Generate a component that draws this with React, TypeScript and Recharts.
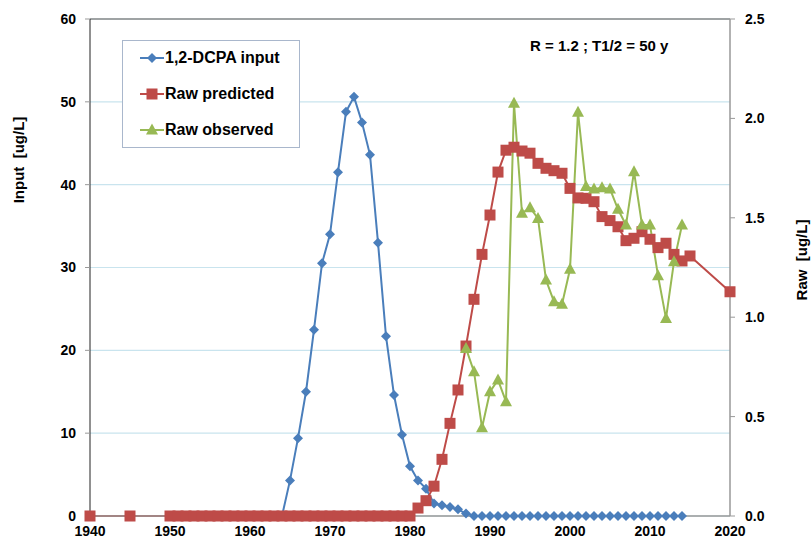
import { ComposedChart, Line, XAxis, YAxis, CartesianGrid, ReferenceLine } from 'recharts';

const xTicks = [1940, 1950, 1960, 1970, 1980, 1990, 2000, 2010, 2020];
const inputTicks = [0, 10, 20, 30, 40, 50, 60];
const rawTicks = [0, 0.5, 1, 1.5, 2, 2.5];

const inputYears = [
  1964, 1965, 1966, 1967, 1968, 1969, 1970, 1971, 1972, 1973, 1974, 1975, 1976, 1977, 1978, 1979,
  1980, 1981, 1982, 1983, 1984, 1985, 1986, 1987, 1988, 1989, 1990, 1991, 1992, 1993, 1994, 1995,
  1996, 1997, 1998, 1999, 2000, 2001, 2002, 2003, 2004, 2005, 2006, 2007, 2008, 2009, 2010, 2011,
  2012, 2013, 2014,
];
const inputValues = [
  0, 4.3, 9.4, 15, 22.5, 30.5, 34, 41.5, 48.8, 50.6, 47.5, 43.6, 33, 21.7, 14.6, 9.8,
  6, 4.3, 3.3, 1.5, 1.3, 1.1, 0.8, 0.3, 0, 0, 0, 0, 0, 0, 0, 0,
  0, 0, 0, 0, 0, 0, 0, 0, 0, 0, 0, 0, 0, 0, 0, 0,
  0, 0, 0,
];

const predictedYears = [
  1940, 1945, 1950, 1951, 1952, 1953, 1954, 1955, 1956, 1957, 1958, 1959, 1960, 1961, 1962, 1963,
  1964, 1965, 1966, 1967, 1968, 1969, 1970, 1971, 1972, 1973, 1974, 1975, 1976, 1977, 1978, 1979,
  1980, 1981, 1982, 1983, 1984, 1985, 1986, 1987, 1988, 1989, 1990, 1991, 1992, 1993, 1994, 1995,
  1996, 1997, 1998, 1999, 2000, 2001, 2002, 2003, 2004, 2005, 2006, 2007, 2008, 2009, 2010, 2011,
  2012, 2013, 2014, 2015, 2020,
];
const predictedValues = [
  0, 0, 0, 0, 0, 0, 0, 0, 0, 0, 0, 0, 0, 0, 0, 0,
  0, 0, 0, 0, 0, 0, 0, 0, 0, 0, 0, 0, 0, 0, 0, 0,
  0, 0.04, 0.077, 0.15, 0.285, 0.466, 0.634, 0.855, 1.09, 1.316, 1.514, 1.73, 1.84, 1.855, 1.836, 1.825,
  1.774, 1.749, 1.737, 1.724, 1.648, 1.6, 1.598, 1.581, 1.506, 1.486, 1.455, 1.385, 1.397, 1.43, 1.392, 1.35,
  1.372, 1.316, 1.283, 1.308, 1.128,
];

const observedYears = [
  1987, 1988, 1989, 1990, 1991, 1992, 1993, 1994, 1995, 1996, 1997, 1998, 1999, 2000,
  2001, 2002, 2003, 2004, 2005, 2006, 2007, 2008, 2009, 2010, 2011, 2012, 2013, 2014,
];
const observedValues = [
  0.843, 0.726, 0.444, 0.625, 0.684, 0.575, 2.076, 1.523, 1.551, 1.497, 1.187, 1.078, 1.065, 1.241,
  2.031, 1.657, 1.645, 1.651, 1.645, 1.543, 1.464, 1.732, 1.464, 1.464, 1.209, 0.994, 1.279, 1.464,
];

const BLUE = '#4a7ebb';
const RED = '#be4b48';
const GREEN = '#98b954';
const FONT = '"Liberation Sans", Arial, sans-serif';

const inputData = inputYears.map((year, i) => ({ year, v: inputValues[i] }));
const predictedData = predictedYears.map((year, i) => ({ year, v: predictedValues[i] }));
const observedData = observedYears.map((year, i) => ({ year, v: observedValues[i] }));

const Diamond = ({ cx, cy, key }: any) => (
  <path key={key} d={`M${cx},${cy - 5}L${cx + 5},${cy}L${cx},${cy + 5}L${cx - 5},${cy}Z`} fill={BLUE} />
);
const Square = ({ cx, cy, key }: any) => (
  <rect key={key} x={cx - 5.5} y={cy - 5.5} width={11} height={11} fill={RED} />
);
const Triangle = ({ cx, cy, key }: any) => (
  <path key={key} d={`M${cx},${cy - 6.5}L${cx + 6},${cy + 4.5}L${cx - 6},${cy + 4.5}Z`} fill={GREEN} />
);

const legendItems = [
  { name: '1,2-DCPA input', color: BLUE, Marker: Diamond },
  { name: 'Raw predicted', color: RED, Marker: Square },
  { name: 'Raw observed', color: GREEN, Marker: Triangle },
];

// legend drawn as an overlay box, like the spreadsheet one
const LegendBox = () => (
  <div
    style={{
      position: 'absolute',
      left: 122,
      top: 40,
      width: 178,
      height: 108,
      border: '1px solid #a9b7cc',
      background: '#fff',
      fontFamily: FONT,
      fontWeight: 'bold',
      fontSize: 16,
      boxSizing: 'border-box',
    }}
  >
    {legendItems.map((item, i) => (
      <div
        key={item.name}
        style={{ position: 'absolute', left: 17, top: 6 + i * 36, display: 'flex', alignItems: 'center', height: 22 }}
      >
        <svg width={24} height={14}>
          <line x1={0} y1={7} x2={24} y2={7} stroke={item.color} strokeWidth={2} />
          {item.Marker({ cx: 12, cy: 7, key: 'm' })}
        </svg>
        <span style={{ marginLeft: 1, color: '#000' }}>{item.name}</span>
      </div>
    ))}
  </div>
);

const tickStyle = { fontSize: 14, fontWeight: 'bold', fill: '#000', fontFamily: FONT };
const titleStyle = { fontSize: 15, fontWeight: 'bold', fill: '#000', fontFamily: FONT, whiteSpace: 'pre' } as any;

export default function App() {
  return (
    <div style={{ position: 'relative', width: 811, height: 542, background: '#fff', overflow: 'hidden' }}>
      <style>{'body { margin: 0; }'}</style>
      <ComposedChart width={811} height={542} margin={{ top: 19, right: 20, left: 40, bottom: 0 }}>
        <CartesianGrid yAxisId="left" vertical={false} stroke="#c9e4ee" strokeWidth={1.2} />
        <XAxis
          dataKey="year"
          type="number"
          domain={[1940, 2020]}
          ticks={xTicks}
          allowDuplicatedCategory={false}
          height={26}
          tickSize={0}
          tickMargin={10}
          axisLine={{ stroke: '#999', strokeWidth: 1.5 }}
          tickLine={false}
          tick={tickStyle}
        />
        <YAxis
          yAxisId="left"
          domain={[0, 60]}
          ticks={inputTicks}
          width={50}
          tickSize={5}
          tickMargin={9}
          axisLine={{ stroke: '#222', strokeWidth: 1 }}
          tickLine={{ stroke: '#999' }}
          tick={tickStyle}
        />
        <YAxis
          yAxisId="right"
          orientation="right"
          domain={[0, 2.5]}
          ticks={rawTicks}
          width={61}
          tickSize={5}
          tickMargin={10}
          axisLine={{ stroke: '#999', strokeWidth: 1.5 }}
          tickLine={{ stroke: '#999' }}
          tick={tickStyle}
          tickFormatter={(v: number) => v.toFixed(1)}
        />
        <ReferenceLine yAxisId="left" y={60} stroke="#888" strokeWidth={1.5} />
        <Line
          yAxisId="left"
          data={inputData}
          dataKey="v"
          name="1,2-DCPA input"
          stroke={BLUE}
          strokeWidth={2}
          dot={Diamond}
          isAnimationActive={false}
        />
        <Line
          yAxisId="right"
          data={predictedData}
          dataKey="v"
          name="Raw predicted"
          stroke={RED}
          strokeWidth={2}
          dot={Square}
          isAnimationActive={false}
        />
        <Line
          yAxisId="right"
          data={observedData}
          dataKey="v"
          name="Raw observed"
          stroke={GREEN}
          strokeWidth={2}
          dot={Triangle}
          isAnimationActive={false}
        />
      </ComposedChart>
      <svg width={811} height={542} style={{ position: 'absolute', left: 0, top: 0, pointerEvents: 'none' }}>
        <text x={18} y={160} transform="rotate(-90 18 160)" textAnchor="middle" dominantBaseline="central" style={titleStyle}>
          {'Input  [ug/L]'}
        </text>
        <text x={801} y={260} transform="rotate(-90 801 260)" textAnchor="middle" dominantBaseline="central" style={titleStyle}>
          {'Raw  [ug/L]'}
        </text>
        <text x={530} y={51} style={titleStyle}>
          {'R = 1.2 ; T1/2 = 50 y'}
        </text>
      </svg>
      <LegendBox />
    </div>
  );
}
